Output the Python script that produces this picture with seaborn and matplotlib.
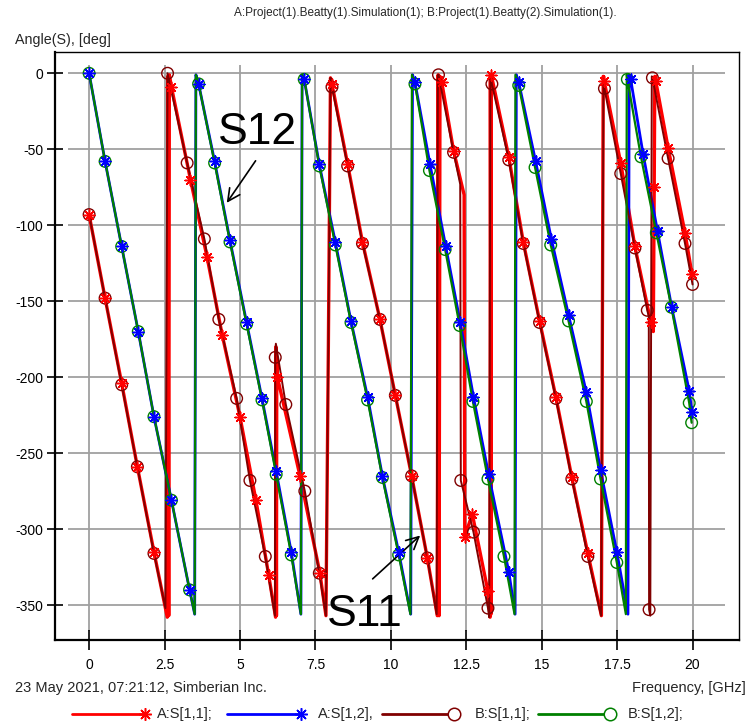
import matplotlib
matplotlib.use("Agg")
import matplotlib.pyplot as plt
from matplotlib import font_manager
from matplotlib.lines import Line2D
import pandas as pd
import seaborn as sns

title = "A:Project(1).Beatty(1).Simulation(1); B:Project(1).Beatty(2).Simulation(1)."
ylabel = "Angle(S), [deg]"
xlabel = "Frequency, [GHz]"
stamp = "23 May 2021, 07:21:12, Simberian Inc."

xticks = [0, 2.5, 5, 7.5, 10, 12.5, 15, 17.5, 20]
xticklabels = ["0", "2.5", "5", "7.5", "10", "12.5", "15", "17.5", "20"]
yticks = [0, -50, -100, -150, -200, -250, -300, -350]

# A:S[1,1]  (freq GHz, phase deg, 1 = sample drawn with a marker)
a11_f = [0, 0.53, 1.08, 1.60, 2.15, 2.59, 2.61, 2.64, 2.66, 2.73, 3.36, 3.91, 4.41, 5.00,
         5.53, 5.95, 6.18, 6.19, 6.21, 6.22, 6.24, 6.99, 7.65, 7.85, 7.93, 8.00, 8.05, 8.57,
         9.06, 9.64, 10.15, 10.69, 11.21, 11.54, 11.57, 11.60, 11.63, 11.69, 12.08, 12.43,
         12.45, 12.70, 13.22, 13.29, 13.30, 13.32, 13.33, 13.91, 14.39, 14.93, 15.47, 16.00,
         16.53, 16.98, 17.04, 17.07, 17.62, 18.09, 18.62, 18.70, 18.73, 18.75, 18.78, 19.19,
         19.75, 19.98]
a11_deg = [-93, -148, -204, -259, -315, -358, -2, -357, -1, -9, -70, -121, -172, -226,
           -281, -330, -358, -180, -357, -190, -200, -265, -329, -357, -180, -3, -7, -60,
           -111, -162, -212, -265, -319, -357, -1, -357, -2, -6, -51, -80,
           -305, -290, -341, -358, -1, -356, -1, -55, -111, -163, -213, -266,
           -316, -357, -2, -5, -59, -114, -164, -170, -75, -2, -5, -49,
           -105, -132]
a11_mk = [1, 1, 1, 1, 1, 0, 0, 0, 0, 1, 1, 1, 1, 1,
          1, 1, 0, 0, 0, 0, 1, 1, 1, 0, 0, 0, 1, 1,
          1, 1, 1, 1, 1, 0, 0, 0, 0, 1, 1, 0,
          1, 1, 1, 0, 0, 0, 1, 1, 1, 1, 1, 1,
          1, 0, 0, 1, 1, 1, 1, 0, 1, 0, 1, 1,
          1, 1]

# A:S[1,2]
a12_f = [0, 0.53, 1.08, 1.63, 2.15, 2.73, 3.33, 3.50, 3.54, 3.63, 4.16, 4.67, 5.22, 5.73,
         6.20, 6.70, 7.02, 7.06, 7.13, 7.63, 8.16, 8.68, 9.23, 9.72, 10.26, 10.66, 10.72,
         10.80, 11.30, 11.82, 12.30, 12.74, 13.24, 13.91, 14.12, 14.16, 14.24, 14.80, 15.32,
         15.89, 16.48, 16.95, 17.49, 17.86, 17.90, 17.95, 18.36, 18.84, 19.31, 19.89, 19.98]
a12_deg = [0, -58, -114, -170, -226, -281, -340, -356, -1, -7, -58, -110, -164, -214,
           -262, -315, -356, -1, -4, -60, -111, -163, -213, -265, -315, -356, -1,
           -6, -60, -114, -164, -213, -264, -328, -356, -1, -6, -58, -109,
           -159, -210, -261, -315, -356, -1, -4, -53, -104, -154, -209, -223]
a12_mk = [1, 1, 1, 1, 1, 1, 1, 0, 0, 1, 1, 1, 1, 1,
          1, 1, 0, 0, 1, 1, 1, 1, 1, 1, 1, 0, 0,
          1, 1, 1, 1, 1, 1, 1, 0, 0, 1, 1, 1,
          1, 1, 1, 1, 0, 0, 1, 1, 1, 1, 1, 1]

# B:S[1,1]
b11_f = [0, 0.53, 1.08, 1.60, 2.15, 2.53, 2.60, 3.25, 3.82, 4.30, 4.89, 5.33, 5.84, 6.16,
         6.17, 6.19, 6.52, 7.15, 7.63, 7.85, 7.93, 8.00, 8.05, 8.57, 9.06, 9.64, 10.15,
         10.69, 11.21, 11.52, 11.56, 11.58, 12.08, 12.30, 12.32, 12.74, 13.22, 13.26, 13.30,
         13.35, 13.91, 14.39, 14.93, 15.47, 16.00, 16.53, 16.97, 17.05, 17.08, 17.62, 18.09,
         18.50, 18.55, 18.56, 18.60, 18.65, 18.67, 19.19, 19.75, 20.00]
b11_deg = [-93, -148, -205, -259, -316, -352, 0, -59, -109, -162, -214, -268, -318, -357,
           -187, -178, -218, -275, -329, -357, -180, -3, -9, -61, -112, -162, -212,
           -265, -319, -356, -1, -1, -52, -73, -268, -302, -352, -358, -1,
           -7, -57, -112, -164, -214, -267, -318, -357, -4, -10, -66, -115,
           -156, -160, -353, -357, -2, -3, -56, -112, -139]
b11_mk = [1, 1, 1, 1, 1, 0, 1, 1, 1, 1, 1, 1, 1, 0,
          1, 0, 1, 1, 1, 0, 0, 0, 1, 1, 1, 1, 1,
          1, 1, 0, 0, 1, 1, 0, 1, 1, 1, 0, 0,
          1, 1, 1, 1, 1, 1, 1, 0, 0, 1, 1, 1,
          1, 0, 1, 0, 0, 1, 1, 1, 1]

# B:S[1,2]
b12_f = [0, 0.53, 1.08, 1.63, 2.15, 2.73, 3.33, 3.50, 3.54, 3.63, 4.16, 4.67, 5.22, 5.73,
         6.20, 6.70, 7.02, 7.06, 7.13, 7.63, 8.16, 8.68, 9.23, 9.72, 10.26, 10.65, 10.70,
         10.80, 11.28, 11.80, 12.28, 12.72, 13.22, 13.75, 14.10, 14.13, 14.24, 14.78, 15.30,
         15.89, 16.48, 16.95, 17.49, 17.79, 17.82, 17.84, 18.29, 18.80, 19.30, 19.89, 19.97]
b12_deg = [0, -58, -114, -170, -226, -281, -340, -356, -1, -7, -59, -111, -165, -215,
           -264, -317, -356, -1, -4, -61, -113, -164, -215, -266, -317, -356, -1,
           -7, -64, -116, -166, -216, -267, -318, -356, -1, -8, -62, -113,
           -163, -216, -267, -322, -356, -1, -4, -55, -105, -154, -217, -230]
b12_mk = a12_mk

names = ["A:S[1,1];", "A:S[1,2],", "B:S[1,1];", "B:S[1,2];"]
colors = ["#ff0000", "#0000ff", "#800000", "#008000"]

frames = []
for name, f, d, m in zip(names, [a11_f, a12_f, b11_f, b12_f],
                         [a11_deg, a12_deg, b11_deg, b12_deg],
                         [a11_mk, a12_mk, b11_mk, b12_mk]):
    frames.append(pd.DataFrame({"freq": f, "deg": d, "mark": m, "trace": name}))
df = pd.concat(frames, ignore_index=True)

sns.set_theme(style="white")
fams = {f.name for f in font_manager.fontManager.ttflist}
small_font = "Liberation Sans Narrow" if "Liberation Sans Narrow" in fams else "Liberation Sans"
plt.rcParams["font.family"] = ["Liberation Sans", "DejaVu Sans"]
plt.rcParams["axes.unicode_minus"] = False

W, H = 749, 722
fig = plt.figure(figsize=(W / 100, H / 100), dpi=100)
fig.patch.set_facecolor("white")
ax = fig.add_axes([55 / W, (H - 640) / H, (739 - 55) / W, (640 - 52) / H])
ax.set_xlim(-1.13, 21.54)
ax.set_ylim(-373, 14)

# grid drawn as short segments like the original
ax.vlines(xticks, -367, 5.5, color="#a0a0a0", lw=1.3, zorder=0)
ax.hlines(yticks, -0.7, 21.08, color="#a0a0a0", lw=1.3, zorder=0)

widths = [2.4, 2.0, 1.4, 1.6]
for name, c, lw in zip(names, colors, widths):
    sub = df[df.trace == name]
    sns.lineplot(data=sub, x="freq", y="deg", sort=False, estimator=None,
                 color=c, lw=lw, ax=ax, zorder=2)

for name, c in zip(names, colors):
    sub = df[(df.trace == name) & (df.mark == 1)]
    if name.startswith("A"):
        sns.scatterplot(data=sub, x="freq", y="deg", marker=(8, 2, 0), s=60,
                        color=c, linewidths=1.1, ax=ax, zorder=4)
    else:
        sns.scatterplot(data=sub, x="freq", y="deg", marker="o", s=70,
                        color=c, facecolor="none", edgecolor=c, linewidths=1.0,
                        ax=ax, zorder=3)

ax.set_xlabel("")
ax.set_ylabel("")
ax.set_xticks(xticks)
ax.set_xticklabels(xticklabels)
ax.set_yticks(yticks)
ax.tick_params(axis="x", direction="inout", length=14, width=1.2, pad=6,
               labelsize=10, colors="black", bottom=True)
ax.tick_params(axis="y", direction="inout", length=11, width=1.2, pad=3,
               labelsize=10, colors="black", left=True)
for lab in ax.get_xticklabels() + ax.get_yticklabels():
    lab.set_fontfamily(small_font)
for s in ["left", "bottom"]:
    ax.spines[s].set_color("black")
    ax.spines[s].set_linewidth(1.6)
for s in ["top", "right"]:
    ax.spines[s].set_color("black")
    ax.spines[s].set_linewidth(1.0)

# annotations
ax.text(5.59, -38.8, "S12", fontsize=32, ha="center", va="center", color="black")
ax.annotate("", xy=(4.51, -86.8), xytext=(5.57, -56.1),
            arrowprops=dict(arrowstyle="->", color="black", lw=1.2, mutation_scale=22))
ax.text(9.13, -356, "S11", fontsize=32, ha="center", va="center", color="black")
ax.annotate("", xy=(11.04, -303), xytext=(9.33, -334),
            arrowprops=dict(arrowstyle="->", color="black", lw=1.2, mutation_scale=22))

# texts around the frame
fig.text(425 / W, 1 - 13 / H, title, ha="center", va="center", fontsize=8.5,
         family=small_font)
fig.text(15 / W, 1 - 40 / H, ylabel, ha="left", va="center", fontsize=10.3,
         family=small_font)
fig.text(15 / W, 1 - 688 / H, stamp, ha="left", va="center", fontsize=10.5,
         family=small_font)
fig.text(746 / W, 1 - 688 / H, xlabel, ha="right", va="center", fontsize=10.5,
         family=small_font)

# legend row: line with marker at right end, then label
leg_y = 1 - 714 / H
leg_items = [(72, 145, 157), (227, 301, 318), (382, 454, 475), (538, 610, 628)]
for (x0, x1, xt), name, c in zip(leg_items, names, colors):
    fig.add_artist(Line2D([x0 / W, x1 / W], [leg_y, leg_y], color=c, lw=2,
                          transform=fig.transFigure))
    if name.startswith("A"):
        fig.add_artist(Line2D([x1 / W], [leg_y], marker=(8, 2, 0), ms=9, mew=1.1,
                              mec=c, ls="none", transform=fig.transFigure))
    else:
        fig.add_artist(Line2D([x1 / W], [leg_y], marker="o", ms=9, mew=1.1,
                              mec=c, mfc="white", ls="none", transform=fig.transFigure))
    fig.text(xt / W, leg_y, name, ha="left", va="center", fontsize=10.5, family=small_font)

fig.savefig("out.png", dpi=100)
